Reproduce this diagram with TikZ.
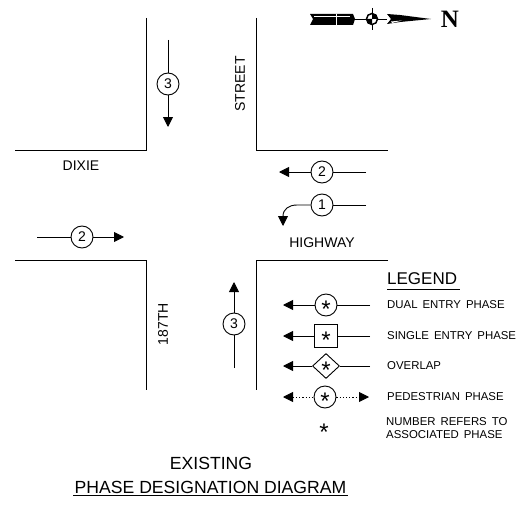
\documentclass[tikz,border=0pt]{standalone}
\usepackage{fontspec}
\setmainfont{Liberation Sans}
\newfontfamily\nfont{Liberation Serif}
\usetikzlibrary{shapes.geometric,arrows.meta}
\newcommand{\wsp}{\hspace{5pt}}
\tikzset{
 road/.style={draw=black,line width=0.9pt},
 phase/.style={draw=black,line width=0.9pt},
 tip/.style={-{Triangle[length=10pt,width=10pt]}},
 dottip/.style={line width=0.9pt,dash pattern=on 1.2pt off 2pt},
 circ/.style={circle,draw=black,fill=white,line width=0.9pt,minimum size=22pt,inner sep=0pt,font=\fontsize{14}{14}\selectfont},
 sq/.style={rectangle,draw=black,fill=white,line width=0.9pt,minimum size=23pt,inner sep=0pt},
 dia/.style={diamond,aspect=1.1,draw=black,fill=white,line width=0.9pt,minimum width=27pt,minimum height=25pt,inner sep=0pt},
 lab/.style={font=\fontsize{14}{14}\selectfont,inner sep=0pt},
 leg/.style={inner sep=0pt,anchor=west,font=\fontsize{11.4}{13}\selectfont},
 star/.style={font=\fontsize{24}{24}\selectfont,inner sep=0pt},
 ttl/.style={inner sep=0pt,font=\fontsize{17.6}{18}\selectfont},
}
\begin{document}
\begin{tikzpicture}[x=1pt,y=-1pt]
\useasboundingbox (0,0) rectangle (524,508);
% roads
\draw[road] (146,18) -- (146,150) -- (15,150);
\draw[road] (256,18) -- (256,150) -- (388,150);
\draw[road] (15,260) -- (146,260) -- (146,390);
\draw[road] (388,260) -- (256,260) -- (256,390);
% labels
\node[lab] (dixie) at (81,166) {DIXIE};
\node[lab,rotate=90] (street) at (240,84) {STREET};
\node[lab] (highway) at (322,243) {HIGHWAY};
\node[lab,rotate=90] (th) at (163,324) {187TH};
% phases
\node[circ] (p3a) at (168,84) {3};
\coordinate (p3as) at (168,40);
\coordinate (p3ae) at (168,127);
\draw[phase] (p3as) -- (p3a);
\draw[phase,tip] (p3a) -- (p3ae);
\node[circ] (p2a) at (322,172) {2};
\coordinate (p2as) at (366,172);
\coordinate (p2ae) at (279,172);
\draw[phase] (p2as) -- (p2a);
\draw[phase,tip] (p2a) -- (p2ae);
\node[circ] (p1) at (322,205) {1};
\coordinate (p1s) at (366,205);
\coordinate (p1e) at (283,226);
\draw[phase] (p1s) -- (p1);
\draw[phase,tip] (p1.west) -- (297,205) .. controls (289,205) and (283,209) .. (p1e);
\node[circ] (p2b) at (82,237) {2};
\coordinate (p2bs) at (37,237);
\coordinate (p2be) at (124,237);
\draw[phase] (p2bs) -- (p2b);
\draw[phase,tip] (p2b) -- (p2be);
\node[circ] (p3b) at (234,324) {3};
\coordinate (p3bs) at (234,368);
\coordinate (p3be) at (234,282);
\draw[phase] (p3bs) -- (p3b);
\draw[phase,tip] (p3b) -- (p3be);
% legend
\node[anchor=west,inner sep=0pt,font=\fontsize{17}{17}\selectfont] (legend) at (387,279) {LEGEND};
\draw[line width=0.9pt] (387,289.5) -- (460,289.5);
\node[circ] (l1) at (326,305) {}; \node[star] at (326,309) {*};
\coordinate (l1s) at (370,305); \coordinate (l1e) at (283,305);
\draw[phase] (l1s) -- (l1); \draw[phase,tip] (l1) -- (l1e);
\node[leg] (t1) at (387,305) {DUAL\wsp ENTRY\wsp PHASE};
\node[sq] (l2) at (326,336) {}; \node[star] at (326,340) {*};
\coordinate (l2s) at (370,336); \coordinate (l2e) at (283,336);
\draw[phase] (l2s) -- (l2); \draw[phase,tip] (l2) -- (l2e);
\node[leg] (t2) at (387,336) {SINGLE\wsp ENTRY\wsp PHASE};
\node[dia] (l3) at (326,366) {}; \node[star] at (326,370) {*};
\coordinate (l3s) at (370,366); \coordinate (l3e) at (283,366);
\draw[phase] (l3s) -- (l3); \draw[phase,tip] (l3) -- (l3e);
\node[leg] (t3) at (387,366) {OVERLAP};
\node[circ] (l4) at (325,397) {}; \node[star] at (325,401) {*};
\coordinate (l4s) at (369,397); \coordinate (l4e) at (283,397);
\draw[dottip,{Triangle[length=10pt,width=10pt]}-] (l4e) -- (l4);
\draw[dottip,-{Triangle[length=10pt,width=10pt]}] (l4) -- (l4s);
\node[leg] (t4) at (387,397) {PEDESTRIAN\wsp PHASE};
\node[star] (l5) at (324,432) {*};
\node[leg,align=left] (t5) at (386,428.5) {NUMBER\wsp REFERS\wsp TO\\ASSOCIATED\wsp PHASE};
% title
\node[ttl] (title1) at (211,463) {EXISTING};
\node[ttl] (title2) at (210.5,487) {PHASE DESIGNATION DIAGRAM};
\draw[line width=0.9pt] (73,495) -- (348,495);
% north arrow
\fill (310,14) -- (353,14) -- (355,19) -- (353,25) -- (310,25) -- (313,19) -- cycle;
\draw[white,line width=0.8pt] (314,16.5) -- (350,16.5);
\draw[white,line width=0.8pt] (336,14) -- (336,25);
\draw[line width=0.9pt] (355,19) -- (387,19);
\draw[line width=0.9pt] (372,8) -- (372,30);
\draw[line width=1.5pt,fill=white] (372,19) circle (5.5pt);
\fill (372,19) -- (366.5,19) arc (180:270:5.5pt) -- cycle;
\fill (372,19) -- (372,13.5) arc (90:0:5.5pt) -- cycle;
\fill (387,14) -- (400,15) -- (431,19) -- (400,22) -- (387,24) -- (391,19) -- cycle;
\fill[white] (391,21.5) -- (402,20.5) -- (392,23) -- cycle;
\node[inner sep=0pt,font=\fontsize{25}{25}\selectfont\nfont\bfseries] (north) at (450,19) {N};
\end{tikzpicture}
\end{document}
